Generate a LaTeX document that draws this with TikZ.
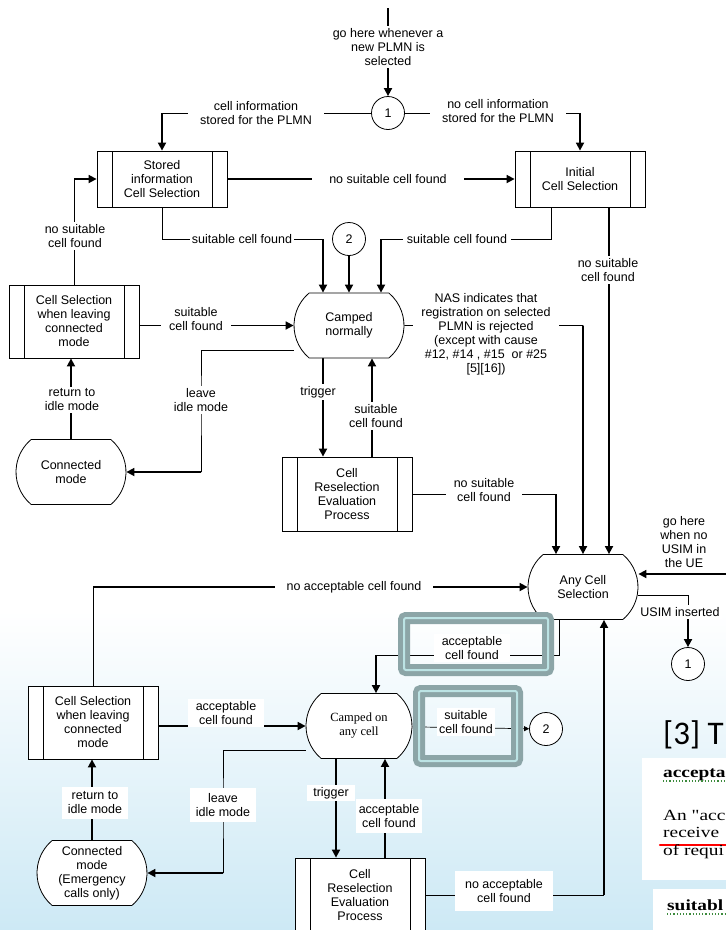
\documentclass[tikz,border=0pt]{standalone}
\usepackage{fontspec}
\setmainfont{Liberation Sans}
\newfontfamily\seriffont{Liberation Serif}
\newfontfamily\panelfont{Liberation Serif}[FakeStretch=1.25]
\newfontfamily\slidefont{Carlito}
\usetikzlibrary{arrows.meta,shapes.misc}
\definecolor{framedark}{HTML}{8CA5A7}
\definecolor{framelight}{HTML}{BCE3E4}
\definecolor{sky}{HTML}{CDE9F5}
\definecolor{wordgreen}{HTML}{3C8A3C}
\pgfdeclarelayer{bg}
\pgfdeclarelayer{lines}
\pgfsetlayers{bg,lines,main}

\begin{document}
\begin{tikzpicture}[x=1pt,y=-1pt,
    every node/.style={font=\fontsize{12.5}{14}\selectfont,align=center},
    proc/.style={rectangle,draw,fill=white,line width=0.8pt,minimum width=130pt,inner sep=1pt,
      path picture={
        \draw[line width=0.8pt] ([xshift=15pt]path picture bounding box.north west) -- ([xshift=15pt]path picture bounding box.south west);
        \draw[line width=0.8pt] ([xshift=-15pt]path picture bounding box.north east) -- ([xshift=-15pt]path picture bounding box.south east);}},
    state/.style={rounded rectangle,rounded rectangle arc length=100,draw,fill=white,line width=0.8pt,minimum width=112pt,minimum height=65pt,inner sep=1pt},
    conn/.style={circle,draw,fill=white,line width=0.8pt,minimum size=33pt,inner sep=0pt},
    lbl/.style={fill=white,inner xsep=8pt,inner ysep=2pt},
    patch/.style={fill=white,inner xsep=6pt,inner ysep=5pt},
    wire/.style={line width=0.7pt},
    flow/.style={line width=1.7pt,-{Triangle[length=8pt,width=8pt]}},
    hilite/.style={draw=framedark,double=framelight,double distance=2pt,line width=5pt,rounded corners=2pt,inner sep=0pt},
    panel/.style={anchor=base west,inner sep=0pt,font=\panelfont\fontsize{15.5}{17}\selectfont}]
  \useasboundingbox (0,0) rectangle (726,930);
  \begin{pgfonlayer}{bg}
    \fill[white] (0,0) rectangle (726,930);
    \shade[top color=white,bottom color=sky] (0,610) rectangle (726,930);
  \end{pgfonlayer}

  % upper half: camped normally
  \coordinate (top) at (388,8);
  \node[conn] (c1) at (388,113) {1};
  \node[proc,minimum height=56pt] (stored) at (162,179) {Stored\\information\\Cell Selection};
  \node[proc,minimum height=56pt] (initial) at (580,179) {Initial\\Cell Selection};
  \node[conn] (c2) at (349,239) {2};
  \node[proc,minimum height=73pt] (cs1) at (74,321.5) {Cell Selection\\when leaving\\connected\\mode};
  \node[state] (camped) at (349,325.5) {Camped\\normally};
  \node[state] (conn1) at (71,472) {Connected\\mode};
  \node[proc,minimum height=74pt] (resel) at (347,494) {Cell\\Reselection\\Evaluation\\Process};

  % lower half: any cell selection
  \node[state] (any) at (583,587) {Any Cell\\Selection};
  \coordinate (usim) at (726,574);
  \node[conn] (c1b) at (688,664) {1};
  \node[proc,minimum height=73pt] (cs2) at (93,722.5) {Cell Selection\\when leaving\\connected\\mode};
  \node[state,minimum width=108pt,font=\seriffont\fontsize{12.5}{14}\selectfont] (campedany) at (359,726) {Camped on\\any cell};
  \node[conn] (c2b) at (546,729) {2};
  \node[state,fill=white] (conn2) at (92,873) {Connected\\mode\\(Emergency\\calls only)};
  \node[proc,minimum height=74pt] (resel2) at (360,895) {Cell\\Reselection\\Evaluation\\Process};
  \coordinate (anyL) at ([xshift=-27pt]any.north);
  \coordinate (anyB) at ([xshift=-24pt]any.south);
  \coordinate (anyR) at ([xshift=21pt]any.south);

  % labels
  \node[lbl] (lgo) at (388,47) {go here whenever a\\new PLMN is\\selected};
  \node[lbl,inner xsep=12pt] (lci) at (256,113) {cell information\\stored for the PLMN};
  \node[lbl,inner xsep=12pt] (lnci) at (498,111) {no cell information\\stored for the PLMN};
  \node[lbl,inner xsep=17pt] (lns) at (388,179) {no suitable cell found};
  \node[lbl] (lns1) at (75,236) {no suitable\\cell found};
  \node[lbl,inner xsep=2pt] (lsf1) at (242,239) {suitable cell found};
  \node[lbl,inner xsep=4pt] (lsf2) at (457,239) {suitable cell found};
  \node[lbl] (lns2) at (608,270) {no suitable\\cell found};
  \node[lbl] (lsf3) at (196,319) {suitable\\cell found};
  \node[lbl] (lnas) at (486,334) {NAS indicates that\\registration on selected\\PLMN is rejected\\(except with cause\\\#12, \#14 , \#15\ \ or \#25\\{}[5][16])};
  \node[lbl] (lv1) at (201,400) {leave\\idle mode};
  \node[lbl] (lr1) at (72,400) {return to\\idle mode};
  \node[lbl,inner xsep=2pt] (lt1) at (318,392) {trigger};
  \node[lbl,inner xsep=2pt] (lsf4) at (376,416) {suitable\\cell found};
  \node[lbl] (lns3) at (484,490) {no suitable\\cell found};
  \node[lbl,inner xsep=0pt,anchor=south] (lgu) at (684,570) {go here\\when no\\USIM in\\the UE};
  \node[lbl,inner xsep=12pt] (lna1) at (354,587) {no acceptable cell found};
  \node[lbl,inner xsep=2pt] (lu) at (680,612) {USIM inserted};
  \node[lbl] (la1) at (472,648) {acceptable\\cell found};
  \node[lbl] (la2) at (226,713) {acceptable\\cell found};
  \node[lbl,inner xsep=2pt] (lsf5) at (466,722) {suitable\\cell found};
  \node[patch] (lr2) at (95,803) {return to\\idle mode};
  \node[patch] (lv2) at (223,805) {leave\\idle mode};
  \node[patch,inner ysep=2pt] (lt2) at (331,793) {trigger};
  \node[patch,inner xsep=3pt] (la3) at (389,816) {acceptable\\cell found};
  \node[patch,inner xsep=10pt,inner ysep=8pt] (lna2) at (504,891) {no acceptable\\cell found};

  % connectors
  \begin{pgfonlayer}{lines}
    \foreach \from/\to in {top/c1,stored/initial,c2/camped}
      \draw[flow] (\from) -- (\to);
    \draw[wire] (c1) -- (c1 -| stored);
    \draw[flow] (c1 -| stored) -- (stored);
    \draw[wire] (c1) -- (c1 -| initial);
    \draw[flow] (c1 -| initial) -- (initial);
    \draw[wire] (cs1) -- (cs1 |- stored);
    \draw[flow] (cs1 |- stored) -- (stored);
    \draw[wire] (stored) |- ([xshift=-26pt]camped.north |- c2);
    \draw[flow] ([xshift=-26pt]camped.north |- c2) -- ([xshift=-26pt]camped.north);
    \draw[wire] ([xshift=-29pt]initial.south) |- ([xshift=32pt]camped.north |- c2);
    \draw[flow] ([xshift=32pt]camped.north |- c2) -- ([xshift=32pt]camped.north);
    \draw[flow] ([xshift=29pt]initial.south) -- ([xshift=29pt]initial.south |- any.north);
    \draw[flow] (cs1.east |- camped) -- (camped);
    \draw[wire] ([yshift=-25pt]camped.west) -| (lv1.center) -- (lv1 |- conn1);
    \draw[flow] (lv1 |- conn1) -- (conn1);
    \draw[flow] (conn1.north) -- (conn1.north |- cs1.south);
    \draw[flow] ([xshift=-26pt]camped.south) -- ([xshift=-26pt]camped.south |- resel.north);
    \draw[flow] ([xshift=25pt]resel.north) -- ([xshift=25pt]resel.north |- camped.south);
    \draw[wire] (resel) -- (resel -| anyL);
    \draw[flow] (resel -| anyL) -- (anyL);
    \draw[wire] (camped) -- (camped -| any);
    \draw[flow] (camped -| any) -- (any);
    \draw[flow] (usim) -- (usim -| any.east);
    \draw[wire] ([yshift=-8pt]any.east) -| (c1b |- lu);
    \draw[flow] (c1b |- lu) -- (c1b);
    \draw[wire] (cs2.north) -- (cs2.north |- any);
    \draw[flow] (cs2.north |- any) -- (any);
    \draw[wire] (anyB) |- ([xshift=17pt,yshift=38pt]campedany.north);
    \draw[flow] ([xshift=17pt,yshift=38pt]campedany.north) -- ([xshift=17pt]campedany.north);
    \draw[flow] (cs2.east |- campedany) -- (campedany);
    \draw[wire,-{Triangle[length=5pt,width=5pt]}] (campedany) -- (c2b);
    \draw[wire] ([yshift=-24pt]campedany.west) -| (lv2.center) -- (lv2 |- conn2);
    \draw[flow] (lv2 |- conn2) -- (conn2);
    \draw[flow] (conn2.north) -- (conn2.north |- cs2.south);
    \draw[flow] ([xshift=-23pt]campedany.south) -- ([xshift=-23pt]campedany.south |- resel2.north);
    \draw[flow] ([xshift=25pt]resel2.north) -- ([xshift=25pt]resel2.north |- campedany.south);
    \draw[wire] (resel2) -- (resel2 -| anyR);
    \draw[flow] (resel2 -| anyR) -- (anyR);
  \end{pgfonlayer}

  % highlight frames
  \node[hilite,minimum width=144pt,minimum height=52pt] (f1) at (476,644) {};
  \node[hilite,minimum width=98pt,minimum height=70pt] (f2) at (468,726) {};

  % slide text on the right
  \node[anchor=base west,inner sep=0pt,font=\slidefont\fontsize{33}{33}\selectfont] (ref3) at (663,744) {[3] T};
  \fill[white] (642,758) rectangle (726,880);
  \fill[white] (653,889) rectangle (726,930);
  \node[panel,font=\panelfont\bfseries\fontsize{15.5}{17}\selectfont] (acc) at (663,777) {accepta};
  \draw[wordgreen,line width=1.2pt,dotted] (663,781) -- (726,781);
  \node[panel] (an) at (663,820) {An "acc};
  \node[panel] (recv) at (663,837) {receive};
  \draw[red,line width=2.5pt,line cap=round] (660,845) -- (726,845);
  \node[panel] (ofr) at (663,855) {of requi};
  \node[panel,font=\panelfont\bfseries\fontsize{15.5}{17}\selectfont] (suit) at (667,910) {suitabl};
  \draw[wordgreen,line width=1.2pt,dotted] (667,914) -- (726,914);
\end{tikzpicture}
\end{document}
